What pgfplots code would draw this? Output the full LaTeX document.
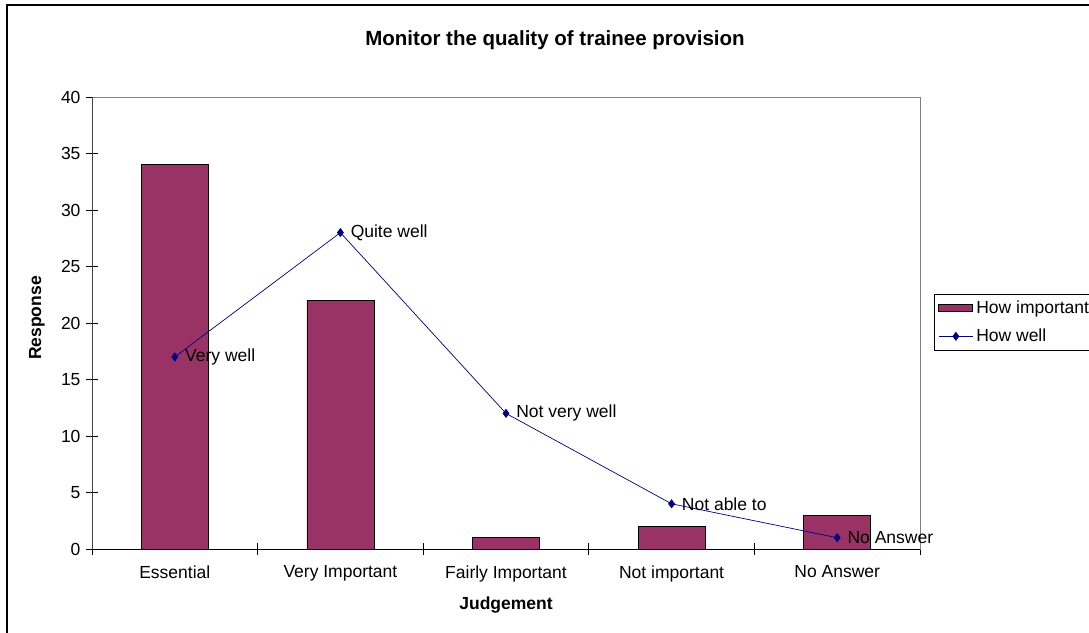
\documentclass[border=0pt]{standalone}
\usepackage{fontspec}
\setmainfont{Liberation Sans}
\usepackage{pgfplots}
\pgfplotsset{compat=1.18}
\definecolor{barc}{HTML}{993366}
\definecolor{linec}{HTML}{000080}
\newcommand{\lab}{\fontsize{17.5}{20}\selectfont}
\pgfplotsset{
  barlegend/.style={legend image code/.code={\draw[##1] (0pt,-3.5pt) rectangle (34pt,3.5pt);}},
  linelegend/.style={legend image code/.code={\draw[##1, mark repeat=2, mark phase=2] plot coordinates {(0pt,0pt) (17pt,0pt) (34pt,0pt)};}},
}

\begin{document}
\begin{tikzpicture}
\useasboundingbox (0pt,0pt) rectangle (1089pt,-632pt);
\draw[line width=1.3pt] (7pt,-640pt) -- (7pt,-5pt) -- (1095pt,-5pt);
\node[font=\fontsize{20.5}{24}\selectfont\bfseries] at (555pt,-40pt) {Monitor the quality of trainee provision};
\node[font=\fontsize{17.5}{20}\selectfont\bfseries, rotate=90] at (37pt,-318pt) {Response};
\node[font=\fontsize{17.5}{20}\selectfont\bfseries] at (506pt,-605pt) {Judgement};
\begin{axis}[
  at={(92pt,-549pt)}, anchor=south west,
  scale only axis, width=828pt, height=452pt,
  xmin=-0.5, xmax=4.5, ymin=0, ymax=40,
  ytick={0,5,...,40},
  xtick={0,...,4},
  xticklabels={Essential,Very Important,Fairly Important,Not important,No Answer},
  minor xtick={-0.5,0.5,...,4.5},
  major x tick style={draw=none},
  minor tick length=12pt, major tick length=12pt,
  tick align=center,
  xtick pos=bottom, ytick pos=left,
  tick style={black, line width=0.8pt},
  axis line style={gray, line width=0.8pt},
  ticklabel style={font=\lab},
  /pgf/number format/assume math mode=true,
  xticklabel style={yshift=-7pt},
  yticklabel style={xshift=-2pt},
  legend style={at={(axis description cs:1.017,0.565)}, anchor=north west,
    font=\lab, draw=black, line width=0.8pt, inner xsep=4pt, inner ysep=5pt,
    row sep=10pt, column sep=1pt, cells={anchor=west}},
  clip=false,
]
\addplot[ybar, bar width=67pt, fill=barc, draw=black, line width=0.8pt, barlegend]
  coordinates {(0,34) (1,22) (2,1) (3,2) (4,3)};
\addlegendentry{How important}
\addplot[linec, line width=0.7pt, mark=diamond*, mark size=4pt,
  point meta=explicit symbolic, nodes near coords,
  every node near coord/.append style={anchor=west, xshift=10pt, font=\lab, text=black, inner sep=0pt},
  linelegend]
  coordinates {(0,17) [Very well] (1,28) [Quite well] (2,12) [Not very well] (3,4) [Not able to] (4,1) [No Answer]};
\addlegendentry{How well}
\draw[black, line width=0.8pt] (rel axis cs:0,0) -- (rel axis cs:1,0);
\draw[darkgray, line width=0.8pt] (rel axis cs:0,0) -- (rel axis cs:0,1);
\end{axis}
\end{tikzpicture}
\end{document}
